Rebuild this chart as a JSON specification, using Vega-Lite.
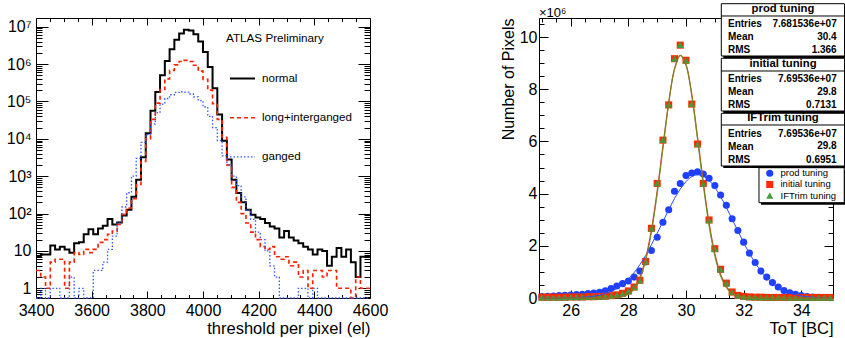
{
  "$schema": "https://vega.github.io/schema/vega-lite/v6.json",
  "background": "white",
  "padding": {"left": 5, "top": 2, "right": 0, "bottom": 0},
  "bounds": "flush",
  "spacing": 169,
  "config": {
    "font": "Liberation Sans",
    "view": {"stroke": "black", "strokeWidth": 1},
    "axis": {"grid": false, "domain": false, "labelFont": "Liberation Sans", "titleFont": "Liberation Sans", "labelFontSize": 16, "titleFontSize": 16.5, "titleFontWeight": "normal", "labelColor": "black", "titleColor": "black", "tickColor": "black", "tickWidth": 1, "labelOverlap": false, "labelFlush": false},
    "legend": {"labelFont": "Liberation Sans", "labelColor": "black"},
    "text": {"font": "Liberation Sans", "color": "black"}
  },
  "resolve": {"scale": {"color": "independent", "strokeDash": "independent", "strokeWidth": "independent", "shape": "independent"}},
  "datasets": {
    "hist": [
      {"t": 3400, "normal": 7, "long+interganged": 3, "ganged": 0},
      {"t": 3417.1, "normal": 8, "long+interganged": 2, "ganged": 1},
      {"t": 3434.3, "normal": 8, "long+interganged": 1, "ganged": 0},
      {"t": 3451.4, "normal": 14, "long+interganged": 5, "ganged": 1},
      {"t": 3468.6, "normal": 11, "long+interganged": 6, "ganged": 1},
      {"t": 3485.7, "normal": 13, "long+interganged": 6, "ganged": 0},
      {"t": 3502.9, "normal": 11, "long+interganged": 1, "ganged": 0},
      {"t": 3520, "normal": 9, "long+interganged": 5, "ganged": 2},
      {"t": 3537.1, "normal": 16, "long+interganged": 9, "ganged": 0},
      {"t": 3554.3, "normal": 17, "long+interganged": 8, "ganged": 1},
      {"t": 3571.4, "normal": 28, "long+interganged": 11, "ganged": 0},
      {"t": 3588.6, "normal": 38, "long+interganged": 9, "ganged": 0},
      {"t": 3605.7, "normal": 28, "long+interganged": 11, "ganged": 3},
      {"t": 3622.9, "normal": 40, "long+interganged": 17, "ganged": 3},
      {"t": 3640, "normal": 47, "long+interganged": 20, "ganged": 5},
      {"t": 3657.1, "normal": 72, "long+interganged": 28, "ganged": 11},
      {"t": 3674.3, "normal": 51, "long+interganged": 34, "ganged": 25},
      {"t": 3691.4, "normal": 58, "long+interganged": 51, "ganged": 60},
      {"t": 3708.6, "normal": 89, "long+interganged": 95, "ganged": 150},
      {"t": 3725.7, "normal": 126, "long+interganged": 140, "ganged": 360},
      {"t": 3742.9, "normal": 280, "long+interganged": 250, "ganged": 1000},
      {"t": 3760, "normal": 800, "long+interganged": 600, "ganged": 3000},
      {"t": 3777.1, "normal": 3200, "long+interganged": 2500, "ganged": 8000},
      {"t": 3794.3, "normal": 14000, "long+interganged": 10000, "ganged": 13000},
      {"t": 3811.4, "normal": 56000, "long+interganged": 33000, "ganged": 25000},
      {"t": 3828.6, "normal": 178000, "long+interganged": 90000, "ganged": 50000},
      {"t": 3845.7, "normal": 500000, "long+interganged": 209000, "ganged": 85000},
      {"t": 3862.9, "normal": 1200000, "long+interganged": 400000, "ganged": 120000},
      {"t": 3880, "normal": 2500000, "long+interganged": 676000, "ganged": 151000},
      {"t": 3897.1, "normal": 4500000, "long+interganged": 955000, "ganged": 174000},
      {"t": 3914.3, "normal": 6600000, "long+interganged": 1170000, "ganged": 182000},
      {"t": 3931.4, "normal": 8300000, "long+interganged": 1260000, "ganged": 178000},
      {"t": 3948.6, "normal": 7900000, "long+interganged": 1170000, "ganged": 158000},
      {"t": 3965.7, "normal": 6300000, "long+interganged": 930000, "ganged": 132000},
      {"t": 3982.9, "normal": 4000000, "long+interganged": 645000, "ganged": 105000},
      {"t": 4000, "normal": 2100000, "long+interganged": 390000, "ganged": 71000},
      {"t": 4017.1, "normal": 830000, "long+interganged": 200000, "ganged": 40000},
      {"t": 4034.3, "normal": 224000, "long+interganged": 87000, "ganged": 20000},
      {"t": 4051.4, "normal": 45000, "long+interganged": 33000, "ganged": 9000},
      {"t": 4068.6, "normal": 8900, "long+interganged": 11000, "ganged": 3500},
      {"t": 4085.7, "normal": 2800, "long+interganged": 2000, "ganged": 2000},
      {"t": 4102.9, "normal": 800, "long+interganged": 500, "ganged": 1000},
      {"t": 4120, "normal": 355, "long+interganged": 200, "ganged": 560},
      {"t": 4137.1, "normal": 200, "long+interganged": 100, "ganged": 280},
      {"t": 4154.3, "normal": 126, "long+interganged": 56, "ganged": 126},
      {"t": 4171.4, "normal": 93, "long+interganged": 32, "ganged": 70},
      {"t": 4188.6, "normal": 79, "long+interganged": 20, "ganged": 32},
      {"t": 4205.7, "normal": 71, "long+interganged": 13, "ganged": 20},
      {"t": 4222.9, "normal": 56, "long+interganged": 11, "ganged": 10},
      {"t": 4240, "normal": 45, "long+interganged": 13, "ganged": 4},
      {"t": 4257.1, "normal": 40, "long+interganged": 7, "ganged": 2},
      {"t": 4274.3, "normal": 23, "long+interganged": 6, "ganged": 0},
      {"t": 4291.4, "normal": 34, "long+interganged": 7, "ganged": 0},
      {"t": 4308.6, "normal": 23, "long+interganged": 4, "ganged": 0},
      {"t": 4325.7, "normal": 19, "long+interganged": 5, "ganged": 0},
      {"t": 4342.9, "normal": 16, "long+interganged": 2, "ganged": 1},
      {"t": 4360, "normal": 13, "long+interganged": 3, "ganged": 1},
      {"t": 4377.1, "normal": 11, "long+interganged": 1, "ganged": 0},
      {"t": 4394.3, "normal": 8, "long+interganged": 3, "ganged": 1},
      {"t": 4411.4, "normal": 11, "long+interganged": 3, "ganged": 0},
      {"t": 4428.6, "normal": 10, "long+interganged": 2, "ganged": 0},
      {"t": 4445.7, "normal": 4, "long+interganged": 3, "ganged": 0},
      {"t": 4462.9, "normal": 7, "long+interganged": 3, "ganged": 0},
      {"t": 4480, "normal": 12, "long+interganged": 1, "ganged": 0},
      {"t": 4497.1, "normal": 7, "long+interganged": 1, "ganged": 0},
      {"t": 4514.3, "normal": 11, "long+interganged": 1, "ganged": 0},
      {"t": 4531.4, "normal": 5, "long+interganged": 0, "ganged": 0},
      {"t": 4548.6, "normal": 2, "long+interganged": 2, "ganged": 0},
      {"t": 4565.7, "normal": 7, "long+interganged": 1, "ganged": 0},
      {"t": 4582.9, "normal": 7, "long+interganged": 1, "ganged": 0},
      {"t": 4600, "normal": 7, "long+interganged": 1, "ganged": 0}
    ],
    "tot": [
      {"t": 25.0, "prod tuning": 0.06, "initial tuning": 0.03, "IFTrim tuning": 0.02},
      {"t": 25.2, "prod tuning": 0.07, "initial tuning": 0.03, "IFTrim tuning": 0.02},
      {"t": 25.4, "prod tuning": 0.08, "initial tuning": 0.03, "IFTrim tuning": 0.02},
      {"t": 25.6, "prod tuning": 0.09, "initial tuning": 0.03, "IFTrim tuning": 0.02},
      {"t": 25.8, "prod tuning": 0.10, "initial tuning": 0.03, "IFTrim tuning": 0.02},
      {"t": 26.0, "prod tuning": 0.11, "initial tuning": 0.04, "IFTrim tuning": 0.03},
      {"t": 26.2, "prod tuning": 0.13, "initial tuning": 0.04, "IFTrim tuning": 0.03},
      {"t": 26.4, "prod tuning": 0.14, "initial tuning": 0.04, "IFTrim tuning": 0.03},
      {"t": 26.6, "prod tuning": 0.17, "initial tuning": 0.05, "IFTrim tuning": 0.04},
      {"t": 26.8, "prod tuning": 0.19, "initial tuning": 0.05, "IFTrim tuning": 0.04},
      {"t": 27.0, "prod tuning": 0.22, "initial tuning": 0.06, "IFTrim tuning": 0.05},
      {"t": 27.2, "prod tuning": 0.28, "initial tuning": 0.07, "IFTrim tuning": 0.06},
      {"t": 27.4, "prod tuning": 0.36, "initial tuning": 0.09, "IFTrim tuning": 0.08},
      {"t": 27.6, "prod tuning": 0.46, "initial tuning": 0.12, "IFTrim tuning": 0.11},
      {"t": 27.8, "prod tuning": 0.55, "initial tuning": 0.18, "IFTrim tuning": 0.17},
      {"t": 28.0, "prod tuning": 0.65, "initial tuning": 0.27, "IFTrim tuning": 0.26},
      {"t": 28.2, "prod tuning": 0.80, "initial tuning": 0.42, "IFTrim tuning": 0.41},
      {"t": 28.4, "prod tuning": 1.03, "initial tuning": 0.68, "IFTrim tuning": 0.67},
      {"t": 28.6, "prod tuning": 1.38, "initial tuning": 1.40, "IFTrim tuning": 1.40},
      {"t": 28.8, "prod tuning": 1.82, "initial tuning": 2.67, "IFTrim tuning": 2.66},
      {"t": 29.0, "prod tuning": 2.33, "initial tuning": 4.39, "IFTrim tuning": 4.40},
      {"t": 29.2, "prod tuning": 2.90, "initial tuning": 6.05, "IFTrim tuning": 6.06},
      {"t": 29.4, "prod tuning": 3.38, "initial tuning": 7.40, "IFTrim tuning": 7.42},
      {"t": 29.6, "prod tuning": 4.09, "initial tuning": 9.17, "IFTrim tuning": 9.17},
      {"t": 29.8, "prod tuning": 4.39, "initial tuning": 9.69, "IFTrim tuning": 9.70},
      {"t": 30.0, "prod tuning": 4.69, "initial tuning": 9.11, "IFTrim tuning": 9.10},
      {"t": 30.2, "prod tuning": 4.79, "initial tuning": 7.43, "IFTrim tuning": 7.44},
      {"t": 30.4, "prod tuning": 4.84, "initial tuning": 5.90, "IFTrim tuning": 5.90},
      {"t": 30.6, "prod tuning": 4.75, "initial tuning": 4.39, "IFTrim tuning": 4.38},
      {"t": 30.8, "prod tuning": 4.59, "initial tuning": 2.99, "IFTrim tuning": 2.98},
      {"t": 31.0, "prod tuning": 4.31, "initial tuning": 1.89, "IFTrim tuning": 1.88},
      {"t": 31.2, "prod tuning": 3.95, "initial tuning": 1.10, "IFTrim tuning": 1.09},
      {"t": 31.4, "prod tuning": 3.55, "initial tuning": 0.57, "IFTrim tuning": 0.56},
      {"t": 31.6, "prod tuning": 3.04, "initial tuning": 0.23, "IFTrim tuning": 0.22},
      {"t": 31.8, "prod tuning": 2.59, "initial tuning": 0.10, "IFTrim tuning": 0.09},
      {"t": 32.0, "prod tuning": 2.14, "initial tuning": 0.06, "IFTrim tuning": 0.05},
      {"t": 32.2, "prod tuning": 1.72, "initial tuning": 0.04, "IFTrim tuning": 0.03},
      {"t": 32.4, "prod tuning": 1.36, "initial tuning": 0.03, "IFTrim tuning": 0.03},
      {"t": 32.6, "prod tuning": 1.03, "initial tuning": 0.03, "IFTrim tuning": 0.02},
      {"t": 32.8, "prod tuning": 0.80, "initial tuning": 0.02, "IFTrim tuning": 0.02},
      {"t": 33.0, "prod tuning": 0.59, "initial tuning": 0.02, "IFTrim tuning": 0.02},
      {"t": 33.2, "prod tuning": 0.42, "initial tuning": 0.02, "IFTrim tuning": 0.02},
      {"t": 33.4, "prod tuning": 0.29, "initial tuning": 0.02, "IFTrim tuning": 0.02},
      {"t": 33.6, "prod tuning": 0.20, "initial tuning": 0.02, "IFTrim tuning": 0.01},
      {"t": 33.8, "prod tuning": 0.14, "initial tuning": 0.02, "IFTrim tuning": 0.01},
      {"t": 34.0, "prod tuning": 0.09, "initial tuning": 0.02, "IFTrim tuning": 0.01},
      {"t": 34.2, "prod tuning": 0.06, "initial tuning": 0.02, "IFTrim tuning": 0.01},
      {"t": 34.4, "prod tuning": 0.04, "initial tuning": 0.02, "IFTrim tuning": 0.01},
      {"t": 34.6, "prod tuning": 0.03, "initial tuning": 0.02, "IFTrim tuning": 0.01},
      {"t": 34.8, "prod tuning": 0.02, "initial tuning": 0.02, "IFTrim tuning": 0.01},
      {"t": 35.0, "prod tuning": 0.01, "initial tuning": 0.02, "IFTrim tuning": 0.01}
    ],
    "fits": [
      {"t": 25.0, "prod": 0.000, "initial": 0, "iftrim": 0},
      {"t": 25.2, "prod": 0.001, "initial": 0, "iftrim": 0},
      {"t": 25.4, "prod": 0.002, "initial": 0, "iftrim": 0},
      {"t": 25.6, "prod": 0.003, "initial": 0, "iftrim": 0},
      {"t": 25.8, "prod": 0.005, "initial": 0, "iftrim": 0},
      {"t": 26.0, "prod": 0.009, "initial": 0, "iftrim": 0},
      {"t": 26.2, "prod": 0.016, "initial": 0, "iftrim": 0},
      {"t": 26.4, "prod": 0.027, "initial": 0, "iftrim": 0},
      {"t": 26.6, "prod": 0.044, "initial": 0, "iftrim": 0},
      {"t": 26.8, "prod": 0.071, "initial": 0, "iftrim": 0},
      {"t": 27.0, "prod": 0.112, "initial": 0.001, "iftrim": 0},
      {"t": 27.2, "prod": 0.171, "initial": 0.002, "iftrim": 0.002},
      {"t": 27.4, "prod": 0.255, "initial": 0.007, "iftrim": 0.006},
      {"t": 27.6, "prod": 0.372, "initial": 0.023, "iftrim": 0.019},
      {"t": 27.8, "prod": 0.524, "initial": 0.064, "iftrim": 0.055},
      {"t": 28.0, "prod": 0.724, "initial": 0.16, "iftrim": 0.14},
      {"t": 28.2, "prod": 0.975, "initial": 0.38, "iftrim": 0.34},
      {"t": 28.4, "prod": 1.28, "initial": 0.79, "iftrim": 0.73},
      {"t": 28.6, "prod": 1.63, "initial": 1.51, "iftrim": 1.43},
      {"t": 28.8, "prod": 2.04, "initial": 2.61, "iftrim": 2.51},
      {"t": 29.0, "prod": 2.48, "initial": 4.10, "iftrim": 3.99},
      {"t": 29.2, "prod": 2.93, "initial": 5.82, "iftrim": 5.73},
      {"t": 29.4, "prod": 3.38, "initial": 7.50, "iftrim": 7.45},
      {"t": 29.6, "prod": 3.81, "initial": 8.77, "iftrim": 8.75},
      {"t": 29.8, "prod": 4.17, "initial": 9.30, "iftrim": 9.30},
      {"t": 30.0, "prod": 4.46, "initial": 8.94, "iftrim": 8.93},
      {"t": 30.2, "prod": 4.65, "initial": 7.80, "iftrim": 7.75},
      {"t": 30.4, "prod": 4.72, "initial": 6.17, "iftrim": 6.09},
      {"t": 30.6, "prod": 4.67, "initial": 4.43, "iftrim": 4.32},
      {"t": 30.8, "prod": 4.51, "initial": 2.88, "iftrim": 2.77},
      {"t": 31.0, "prod": 4.24, "initial": 1.70, "iftrim": 1.61},
      {"t": 31.2, "prod": 3.88, "initial": 0.91, "iftrim": 0.84},
      {"t": 31.4, "prod": 3.47, "initial": 0.44, "iftrim": 0.40},
      {"t": 31.6, "prod": 3.02, "initial": 0.19, "iftrim": 0.17},
      {"t": 31.8, "prod": 2.57, "initial": 0.078, "iftrim": 0.07},
      {"t": 32.0, "prod": 2.12, "initial": 0.028, "iftrim": 0.025},
      {"t": 32.2, "prod": 1.71, "initial": 0.01, "iftrim": 0.008},
      {"t": 32.4, "prod": 1.35, "initial": 0.003, "iftrim": 0.002},
      {"t": 32.6, "prod": 1.03, "initial": 0, "iftrim": 0},
      {"t": 32.8, "prod": 0.772, "initial": 0, "iftrim": 0},
      {"t": 33.0, "prod": 0.561, "initial": 0, "iftrim": 0},
      {"t": 33.2, "prod": 0.398, "initial": 0, "iftrim": 0},
      {"t": 33.4, "prod": 0.276, "initial": 0, "iftrim": 0},
      {"t": 33.6, "prod": 0.186, "initial": 0, "iftrim": 0},
      {"t": 33.8, "prod": 0.122, "initial": 0, "iftrim": 0},
      {"t": 34.0, "prod": 0.078, "initial": 0, "iftrim": 0},
      {"t": 34.2, "prod": 0.049, "initial": 0, "iftrim": 0},
      {"t": 34.4, "prod": 0.030, "initial": 0, "iftrim": 0},
      {"t": 34.6, "prod": 0.018, "initial": 0, "iftrim": 0},
      {"t": 34.8, "prod": 0.010, "initial": 0, "iftrim": 0},
      {"t": 35.0, "prod": 0.006, "initial": 0, "iftrim": 0}
    ]
  },
  "hconcat": [
    {
      "width": 334,
      "height": 280,
      "data": {"name": "hist"},
      "transform": [{"fold": ["normal", "long+interganged", "ganged"], "as": ["series", "count"]}],
      "resolve": {"axis": {"x": "independent", "y": "independent"}},
      "layer": [
        {
          "mark": {"type": "line", "interpolate": "step-after"},
          "encoding": {
            "x": {"field": "t", "type": "quantitative", "scale": {"domain": [3400, 4600], "nice": false, "zero": false},
              "axis": {"orient": "bottom", "values": [3400, 3600, 3800, 4000, 4200, 4400, 4600], "format": "d", "ticks": false, "labelPadding": 4, "title": "threshold per pixel (el)", "titleAnchor": "end", "titlePadding": 2}},
            "y": {"field": "count", "type": "quantitative", "scale": {"type": "log", "domain": [0.55, 17100000], "nice": false, "clamp": true},
              "axis": {"orient": "left", "values": [1, 10, 100, 1000, 10000, 100000, 1000000, 10000000], "ticks": false, "labelPadding": 5, "title": null,
                "labelExpr": "datum.value >= 9e6 ? '10⁷' : datum.value >= 9e5 ? '10⁶' : datum.value >= 9e4 ? '10⁵' : datum.value >= 9e3 ? '10⁴' : datum.value >= 900 ? '10³' : datum.value >= 90 ? '10²' : datum.value >= 9 ? '10' : '1'"}},
            "color": {"field": "series", "type": "nominal", "scale": {"domain": ["normal", "long+interganged", "ganged"], "range": ["#000000", "#ff2200", "#3355ff"]},
              "legend": {"orient": "none", "legendX": 193, "legendY": 47, "title": null, "symbolType": "stroke", "symbolSize": 625, "labelFontSize": 11.6, "labelOffset": 6, "rowPadding": 19.2, "padding": 0}},
            "strokeDash": {"field": "series", "type": "nominal", "scale": {"domain": ["normal", "long+interganged", "ganged"], "range": [[1, 0], [4, 3], [1.5, 2]]},
              "legend": {"orient": "none", "legendX": 193, "legendY": 47, "title": null, "symbolType": "stroke", "symbolSize": 625, "labelFontSize": 11.6, "labelOffset": 6, "rowPadding": 19.2, "padding": 0}},
            "strokeWidth": {"field": "series", "type": "ordinal", "scale": {"domain": ["normal", "long+interganged", "ganged"], "range": [2, 1.3]},
              "legend": {"orient": "none", "legendX": 193, "legendY": 47, "title": null, "symbolType": "stroke", "symbolSize": 625, "labelFontSize": 11.6, "labelOffset": 6, "rowPadding": 19.2, "padding": 0}}
          }
        },
        {
          "mark": {"type": "point", "opacity": 0},
          "encoding": {
            "x": {"field": "t", "type": "quantitative", "axis": {"orient": "bottom", "values": [3400, 3600, 3800, 4000, 4200, 4400, 4600], "labels": false, "ticks": true, "tickSize": -7, "title": null}},
            "y": {"field": "count", "type": "quantitative", "axis": {"orient": "left", "values": [1, 10, 100, 1000, 10000, 100000, 1000000, 10000000], "labels": false, "ticks": true, "tickSize": -12, "title": null}}
          }
        },
        {
          "mark": {"type": "point", "opacity": 0},
          "encoding": {
            "x": {"field": "t", "type": "quantitative", "axis": {"orient": "bottom", "values": [3450, 3500, 3550, 3650, 3700, 3750, 3850, 3900, 3950, 4050, 4100, 4150, 4250, 4300, 4350, 4450, 4500, 4550], "labels": false, "ticks": true, "tickSize": -3.5, "title": null}},
            "y": {"field": "count", "type": "quantitative", "axis": {"orient": "left", "values": [0.6, 0.7, 0.8, 0.9, 2, 3, 4, 5, 6, 7, 8, 9, 20, 30, 40, 50, 60, 70, 80, 90, 200, 300, 400, 500, 600, 700, 800, 900, 2000, 3000, 4000, 5000, 6000, 7000, 8000, 9000, 20000, 30000, 40000, 50000, 60000, 70000, 80000, 90000, 200000, 300000, 400000, 500000, 600000, 700000, 800000, 900000, 2000000, 3000000, 4000000, 5000000, 6000000, 7000000, 8000000, 9000000], "labels": false, "ticks": true, "tickSize": -6, "title": null}}
          }
        },
        {
          "mark": {"type": "point", "opacity": 0},
          "encoding": {
            "x": {"field": "t", "type": "quantitative", "axis": {"orient": "top", "values": [3400, 3600, 3800, 4000, 4200, 4400, 4600], "labels": false, "ticks": true, "tickSize": -7, "title": null}},
            "y": {"field": "count", "type": "quantitative", "axis": {"orient": "right", "values": [1, 10, 100, 1000, 10000, 100000, 1000000, 10000000], "labels": false, "ticks": true, "tickSize": -12, "title": null}}
          }
        },
        {
          "mark": {"type": "point", "opacity": 0},
          "encoding": {
            "x": {"field": "t", "type": "quantitative", "axis": {"orient": "top", "values": [3450, 3500, 3550, 3650, 3700, 3750, 3850, 3900, 3950, 4050, 4100, 4150, 4250, 4300, 4350, 4450, 4500, 4550], "labels": false, "ticks": true, "tickSize": -3.5, "title": null}},
            "y": {"field": "count", "type": "quantitative", "axis": {"orient": "right", "values": [0.6, 0.7, 0.8, 0.9, 2, 3, 4, 5, 6, 7, 8, 9, 20, 30, 40, 50, 60, 70, 80, 90, 200, 300, 400, 500, 600, 700, 800, 900, 2000, 3000, 4000, 5000, 6000, 7000, 8000, 9000, 20000, 30000, 40000, 50000, 60000, 70000, 80000, 90000, 200000, 300000, 400000, 500000, 600000, 700000, 800000, 900000, 2000000, 3000000, 4000000, 5000000, 6000000, 7000000, 8000000, 9000000], "labels": false, "ticks": true, "tickSize": -6, "title": null}}
          }
        },
        {
          "data": {"values": [{"label": "ATLAS Preliminary"}]},
          "mark": {"type": "text", "fontSize": 11.7, "align": "left", "baseline": "middle"},
          "encoding": {
            "x": {"datum": 4082.6, "type": "quantitative", "axis": null},
            "y": {"datum": 5080000, "type": "quantitative", "axis": null},
            "text": {"field": "label"}
          }
        }
      ]
    },
    {
      "width": 294,
      "height": 280,
      "resolve": {"axis": {"x": "independent", "y": "independent"}},
      "layer": [
        {
          "data": {"name": "tot"},
          "transform": [{"fold": ["prod tuning", "initial tuning", "IFTrim tuning"], "as": ["series", "n"]}],
          "mark": {"type": "point", "filled": true, "size": 50, "opacity": 1},
          "encoding": {
            "x": {"field": "t", "type": "quantitative", "scale": {"domain": [24.9, 35.1], "nice": false, "zero": false},
              "axis": {"orient": "bottom", "values": [26, 28, 30, 32, 34], "ticks": false, "labelPadding": 4, "title": "ToT [BC]", "titleAnchor": "end", "titlePadding": 2}},
            "y": {"field": "n", "type": "quantitative", "scale": {"domain": [0, 10.73], "nice": false, "zero": false},
              "axis": {"orient": "left", "values": [0, 2, 4, 6, 8, 10], "ticks": false, "labelPadding": 2, "title": "Number of Pixels", "titleAnchor": "end", "titlePadding": 3, "titleFontSize": 16}},
            "color": {"field": "series", "type": "nominal", "scale": {"domain": ["prod tuning", "initial tuning", "IFTrim tuning"], "range": ["#1f3fff", "#ff2a00", "#3f9f3f"]},
              "legend": {"orient": "none", "legendX": 226, "legendY": 150.5, "title": null, "padding": 0, "labelFontSize": 9.5, "symbolSize": 50, "rowPadding": 0.2, "labelOffset": 6}},
            "shape": {"field": "series", "type": "nominal", "scale": {"domain": ["prod tuning", "initial tuning", "IFTrim tuning"], "range": ["circle", "square", "triangle-up"]},
              "legend": {"orient": "none", "legendX": 226, "legendY": 150.5, "title": null, "padding": 0, "labelFontSize": 9.5, "symbolSize": 50, "rowPadding": 0.2, "labelOffset": 6}}
          }
        },
        {
          "data": {"name": "fits"},
          "mark": {"type": "line", "interpolate": "catmull-rom", "color": "#2a4bff", "strokeWidth": 1},
          "encoding": {
            "x": {"field": "t", "type": "quantitative", "axis": {"orient": "bottom", "values": [26, 28, 30, 32, 34], "labels": false, "ticks": true, "tickSize": -8, "title": null}},
            "y": {"field": "prod", "type": "quantitative", "axis": {"orient": "left", "values": [0, 2, 4, 6, 8, 10], "labels": false, "ticks": true, "tickSize": -9, "title": null}}
          }
        },
        {
          "data": {"name": "fits"},
          "mark": {"type": "line", "interpolate": "catmull-rom", "color": "#d04020", "strokeWidth": 1.2},
          "encoding": {
            "x": {"field": "t", "type": "quantitative", "axis": {"orient": "bottom", "values": [25, 25.5, 26.5, 27, 27.5, 28.5, 29, 29.5, 30.5, 31, 31.5, 32.5, 33, 33.5, 34.5, 35], "labels": false, "ticks": true, "tickSize": -4, "title": null}},
            "y": {"field": "initial", "type": "quantitative", "axis": {"orient": "left", "values": [0.5, 1, 1.5, 2.5, 3, 3.5, 4.5, 5, 5.5, 6.5, 7, 7.5, 8.5, 9, 9.5, 10.5], "labels": false, "ticks": true, "tickSize": -5, "title": null}}
          }
        },
        {
          "data": {"name": "fits"},
          "mark": {"type": "line", "interpolate": "catmull-rom", "color": "#6b8e23", "strokeWidth": 1.2, "opacity": 0.85},
          "encoding": {
            "x": {"field": "t", "type": "quantitative", "axis": {"orient": "top", "values": [26, 28, 30, 32, 34], "labels": false, "ticks": true, "tickSize": -8, "title": null}},
            "y": {"field": "iftrim", "type": "quantitative", "axis": {"orient": "right", "values": [0, 2, 4, 6, 8, 10], "labels": false, "ticks": true, "tickSize": -9, "title": null}}
          }
        },
        {
          "data": {"name": "fits"},
          "mark": {"type": "point", "opacity": 0},
          "encoding": {
            "x": {"field": "t", "type": "quantitative", "axis": {"orient": "top", "values": [25, 25.5, 26.5, 27, 27.5, 28.5, 29, 29.5, 30.5, 31, 31.5, 32.5, 33, 33.5, 34.5, 35], "labels": false, "ticks": true, "tickSize": -4, "title": null}},
            "y": {"field": "iftrim", "type": "quantitative", "axis": {"orient": "right", "values": [0.5, 1, 1.5, 2.5, 3, 3.5, 4.5, 5, 5.5, 6.5, 7, 7.5, 8.5, 9, 9.5, 10.5], "labels": false, "ticks": true, "tickSize": -5, "title": null}}
          }
        },
        {
          "data": {"values": [{"label": "×10⁶"}]},
          "mark": {"type": "text", "fontSize": 13, "align": "left", "baseline": "alphabetic", "dy": -1},
          "encoding": {
            "x": {"datum": 24.9, "type": "quantitative", "axis": null},
            "y": {"datum": 10.73, "type": "quantitative", "axis": null},
            "text": {"field": "label"}
          }
        },
        {
          "data": {"values": [{"box": "legend"}]},
          "layer": [
            {"mark": {"type": "rect", "fill": "black"},
             "encoding": {"x": {"datum": 32.6, "type": "quantitative", "axis": null}, "x2": {"datum": 35.56}, "y": {"datum": 4.916, "type": "quantitative", "axis": null}, "y2": {"datum": 3.575}}},
            {"mark": {"type": "rect", "fill": "white", "stroke": "black", "strokeWidth": 1},
             "encoding": {"x": {"datum": 32.532, "type": "quantitative", "axis": null}, "x2": {"datum": 35.49}, "y": {"datum": 4.993, "type": "quantitative", "axis": null}, "y2": {"datum": 3.652}}}
          ]
        },
        {
          "data": {"values": [{"box": "prod tuning", "entries": "7.681536e+07", "mean": "30.4", "rms": "1.366"}]},
          "layer": [
            {"mark": {"type": "rect", "fill": "black"},
             "encoding": {"x": {"datum": 31.295, "type": "quantitative", "axis": null}, "x2": {"datum": 35.57}, "y": {"datum": 11.2, "type": "quantitative", "axis": null}, "y2": {"datum": 9.197}}},
            {"mark": {"type": "rect", "fill": "white", "stroke": "black", "strokeWidth": 1},
             "encoding": {"x": {"datum": 31.225, "type": "quantitative", "axis": null}, "x2": {"datum": 35.5}, "y": {"datum": 11.278, "type": "quantitative", "axis": null}, "y2": {"datum": 9.274}}},
            {"mark": {"type": "rule", "color": "black", "strokeWidth": 1},
             "encoding": {"x": {"datum": 31.225, "type": "quantitative", "axis": null}, "x2": {"datum": 35.5}, "y": {"datum": 10.807, "type": "quantitative", "axis": null}}},
            {"mark": {"type": "text", "fontSize": 11.3, "fontWeight": "bold", "align": "center", "baseline": "middle"},
             "encoding": {"x": {"datum": 33.365, "type": "quantitative", "axis": null}, "y": {"datum": 11.063, "type": "quantitative", "axis": null}, "text": {"field": "box"}}},
            {"mark": {"type": "text", "fontSize": 10, "fontWeight": "bold", "align": "left", "baseline": "middle", "lineHeight": 13.3},
             "encoding": {"x": {"datum": 31.457, "type": "quantitative", "axis": null}, "y": {"datum": 10.512, "type": "quantitative", "axis": null}, "text": {"value": ["Entries", "Mean", "RMS"]}}},
            {"mark": {"type": "text", "fontSize": 10, "fontWeight": "bold", "align": "right", "baseline": "middle"},
             "encoding": {"x": {"datum": 35.228, "type": "quantitative", "axis": null}, "y": {"datum": 10.512, "type": "quantitative", "axis": null}, "text": {"field": "entries"}}},
            {"mark": {"type": "text", "fontSize": 10, "fontWeight": "bold", "align": "right", "baseline": "middle"},
             "encoding": {"x": {"datum": 35.228, "type": "quantitative", "axis": null}, "y": {"datum": 10.002, "type": "quantitative", "axis": null}, "text": {"field": "mean"}}},
            {"mark": {"type": "text", "fontSize": 10, "fontWeight": "bold", "align": "right", "baseline": "middle"},
             "encoding": {"x": {"datum": 35.228, "type": "quantitative", "axis": null}, "y": {"datum": 9.492, "type": "quantitative", "axis": null}, "text": {"field": "rms"}}}
          ]
        },
        {
          "data": {"values": [{"box": "initial tuning", "entries": "7.69536e+07", "mean": "29.8", "rms": "0.7131"}]},
          "layer": [
            {"mark": {"type": "rect", "fill": "black"},
             "encoding": {"x": {"datum": 31.295, "type": "quantitative", "axis": null}, "x2": {"datum": 35.57}, "y": {"datum": 9.109, "type": "quantitative", "axis": null}, "y2": {"datum": 7.089}}},
            {"mark": {"type": "rect", "fill": "white", "stroke": "black", "strokeWidth": 1},
             "encoding": {"x": {"datum": 31.225, "type": "quantitative", "axis": null}, "x2": {"datum": 35.5}, "y": {"datum": 9.186, "type": "quantitative", "axis": null}, "y2": {"datum": 7.166}}},
            {"mark": {"type": "rule", "color": "black", "strokeWidth": 1},
             "encoding": {"x": {"datum": 31.225, "type": "quantitative", "axis": null}, "x2": {"datum": 35.5}, "y": {"datum": 8.699, "type": "quantitative", "axis": null}}},
            {"mark": {"type": "text", "fontSize": 11.3, "fontWeight": "bold", "align": "center", "baseline": "middle"},
             "encoding": {"x": {"datum": 33.365, "type": "quantitative", "axis": null}, "y": {"datum": 8.956, "type": "quantitative", "axis": null}, "text": {"field": "box"}}},
            {"mark": {"type": "text", "fontSize": 10, "fontWeight": "bold", "align": "left", "baseline": "middle", "lineHeight": 13},
             "encoding": {"x": {"datum": 31.457, "type": "quantitative", "axis": null}, "y": {"datum": 8.381, "type": "quantitative", "axis": null}, "text": {"value": ["Entries", "Mean", "RMS"]}}},
            {"mark": {"type": "text", "fontSize": 10, "fontWeight": "bold", "align": "right", "baseline": "middle"},
             "encoding": {"x": {"datum": 35.228, "type": "quantitative", "axis": null}, "y": {"datum": 8.381, "type": "quantitative", "axis": null}, "text": {"field": "entries"}}},
            {"mark": {"type": "text", "fontSize": 10, "fontWeight": "bold", "align": "right", "baseline": "middle"},
             "encoding": {"x": {"datum": 35.228, "type": "quantitative", "axis": null}, "y": {"datum": 7.894, "type": "quantitative", "axis": null}, "text": {"field": "mean"}}},
            {"mark": {"type": "text", "fontSize": 10, "fontWeight": "bold", "align": "right", "baseline": "middle"},
             "encoding": {"x": {"datum": 35.228, "type": "quantitative", "axis": null}, "y": {"datum": 7.385, "type": "quantitative", "axis": null}, "text": {"field": "rms"}}}
          ]
        },
        {
          "data": {"values": [{"box": "IFTrim tuning", "entries": "7.69536e+07", "mean": "29.8", "rms": "0.6951"}]},
          "layer": [
            {"mark": {"type": "rect", "fill": "black"},
             "encoding": {"x": {"datum": 31.295, "type": "quantitative", "axis": null}, "x2": {"datum": 35.57}, "y": {"datum": 7.001, "type": "quantitative", "axis": null}, "y2": {"datum": 4.981}}},
            {"mark": {"type": "rect", "fill": "white", "stroke": "black", "strokeWidth": 1},
             "encoding": {"x": {"datum": 31.225, "type": "quantitative", "axis": null}, "x2": {"datum": 35.5}, "y": {"datum": 7.078, "type": "quantitative", "axis": null}, "y2": {"datum": 5.058}}},
            {"mark": {"type": "rule", "color": "black", "strokeWidth": 1},
             "encoding": {"x": {"datum": 31.225, "type": "quantitative", "axis": null}, "x2": {"datum": 35.5}, "y": {"datum": 6.63, "type": "quantitative", "axis": null}}},
            {"mark": {"type": "text", "fontSize": 11.3, "fontWeight": "bold", "align": "center", "baseline": "middle"},
             "encoding": {"x": {"datum": 33.365, "type": "quantitative", "axis": null}, "y": {"datum": 6.886, "type": "quantitative", "axis": null}, "text": {"field": "box"}}},
            {"mark": {"type": "text", "fontSize": 10, "fontWeight": "bold", "align": "left", "baseline": "middle", "lineHeight": 13},
             "encoding": {"x": {"datum": 31.457, "type": "quantitative", "axis": null}, "y": {"datum": 6.273, "type": "quantitative", "axis": null}, "text": {"value": ["Entries", "Mean", "RMS"]}}},
            {"mark": {"type": "text", "fontSize": 10, "fontWeight": "bold", "align": "right", "baseline": "middle"},
             "encoding": {"x": {"datum": 35.228, "type": "quantitative", "axis": null}, "y": {"datum": 6.273, "type": "quantitative", "axis": null}, "text": {"field": "entries"}}},
            {"mark": {"type": "text", "fontSize": 10, "fontWeight": "bold", "align": "right", "baseline": "middle"},
             "encoding": {"x": {"datum": 35.228, "type": "quantitative", "axis": null}, "y": {"datum": 5.813, "type": "quantitative", "axis": null}, "text": {"field": "mean"}}},
            {"mark": {"type": "text", "fontSize": 10, "fontWeight": "bold", "align": "right", "baseline": "middle"},
             "encoding": {"x": {"datum": 35.228, "type": "quantitative", "axis": null}, "y": {"datum": 5.277, "type": "quantitative", "axis": null}, "text": {"field": "rms"}}}
          ]
        }
      ]
    }
  ]
}
